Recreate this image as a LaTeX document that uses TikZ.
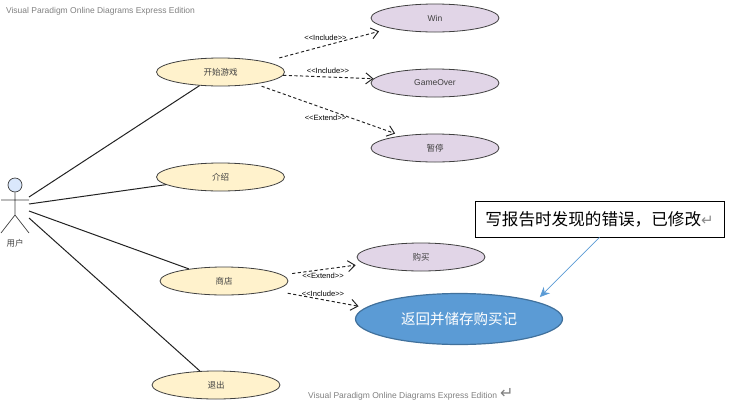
\documentclass[tikz,border=0pt]{standalone}
\usepackage{fontspec}
\setmainfont{Liberation Sans}
\newfontfamily\cjk{Noto Sans CJK SC}
\newfontfamily\symfont{DejaVu Sans}
\usetikzlibrary{arrows.meta,shapes.geometric,positioning}
\definecolor{caseyellow}{HTML}{FFF2CC}
\definecolor{casepurple}{HTML}{E1D5E7}
\definecolor{headblue}{HTML}{DAE8FC}
\definecolor{noteblue}{HTML}{5B9BD5}
\definecolor{noteedge}{HTML}{41719C}
\definecolor{linedark}{HTML}{222222}

\begin{document}
\begin{tikzpicture}[x=1pt, y=-1pt,
    every node/.style={inner sep=0pt},
    usecase/.style={ellipse, draw=black!75, line width=0.8pt, minimum width=128pt, minimum height=28pt, font=\fontsize{8.5}{10}\selectfont, text=black!75},
    casey/.style={usecase, fill=caseyellow},
    casep/.style={usecase, fill=casepurple},
    assoc/.style={linedark, line width=1pt},
    dep/.style={linedark, dash pattern=on 3.2pt off 2.4pt, line width=0.95pt, -{Straight Barb[length=7pt,width=11pt]}},
    deplabel/.style={font=\fontsize{7.6}{9}\selectfont, text=black},
    stamp/.style={font=\fontsize{8.5}{10}\selectfont, text=black!50}]
    \useasboundingbox (0,0) rectangle (729,413);

    \node[stamp] (stamptop) at (100.5,11) {Visual Paradigm Online Diagrams Express Edition};
    \node[stamp,anchor=west] (stampbottom) at (308,394) {Visual Paradigm Online Diagrams Express Edition\hspace{3pt}{\symfont\fontsize{16}{16}\selectfont ↵}};

    % use cases
    \foreach \name/\x/\y/\txt in {gamestart/220.5/72/开始游戏, intro/220.5/177/介绍, shop/224/281/商店, leave/216/385/退出} {
      \node[casey] (\name) at (\x,\y) {\cjk\txt};
    }
    \node[casep] (win) at (435,18) {Win};
    \node[casep] (gameover) at (435,83) {GameOver};
    \node[casep] (pause) at (435,148) {\cjk 暂停};
    \node[casep] (buy) at (421,257) {\cjk 购买};
    \node[ellipse, draw=noteedge, fill=noteblue, line width=1.2pt, minimum width=207pt, minimum height=51pt, text=white, font=\fontsize{14.5}{16}\selectfont] (savebuy) at (459,319) {\cjk 返回并储存购买记};

    % actor
    \node[circle, draw=black!75, fill=headblue, line width=0.7pt, minimum size=14pt] (head) at (15,185) {};
    \coordinate (hip) at (15,215);
    \coordinate (armleft) at (1,200);
    \coordinate (armright) at (29,200);
    \coordinate (footleft) at (1,233);
    \coordinate (footright) at (29,233);
    \draw[black!75,line width=0.7pt] (head) -- (hip) (armleft) -- (armright) (footleft) -- (hip) -- (footright);
    \node[font=\fontsize{8.5}{10}\selectfont, text=black!75] (user) at (15,243) {\cjk 用户};

    % actor to use cases
    \foreach \y/\to/\ang in {197/gamestart/213, 204/intro/188, 211/shop/161, 218/leave/139} {
      \coordinate (from\to) at (29,\y);
      \draw[assoc] (from\to) -- (\to.\ang);
    }

    % dependencies
    \draw[dep,shorten <=14.5pt,shorten >=11.5pt] (gamestart.13.7) -- (win.193.5);
    \draw[dep] (gamestart.357) -- (gameover.176.4);
    \draw[dep,shorten <=6.4pt,shorten >=6.5pt] (gamestart.341.6) -- (pause.160.9);
    \draw[dep,shorten <=10pt,shorten >=9pt] (shop.6.9) -- (buy.187.3);
    \draw[dep,shorten <=15.3pt,shorten >=7pt] (shop.349.7) -- (savebuy.173.6);

    \foreach \name/\x/\y/\txt in {incwin/325.5/38/Include, incover/328/71/Include, extpause/325.5/118/Extend, extbuy/323/276/Extend, incsave/323/294/Include} {
      \node[deplabel] (\name) at (\x,\y) {<{}<\txt>{}>};
    }

    % note
    \node[draw=black, line width=0.8pt, fill=white, minimum width=249pt, minimum height=36pt] (note) at (599.5,219) {\fontsize{16.6}{18}\selectfont\cjk 写报告时发现的错误，已修改{\symfont\fontsize{15}{15}\selectfont\color{black!45}↵}};
    \draw[noteblue, line width=0.7pt, shorten >=6pt, -{Stealth[length=10pt,width=9pt]}] (note.south) -- (savebuy.13.3);
\end{tikzpicture}
\end{document}
